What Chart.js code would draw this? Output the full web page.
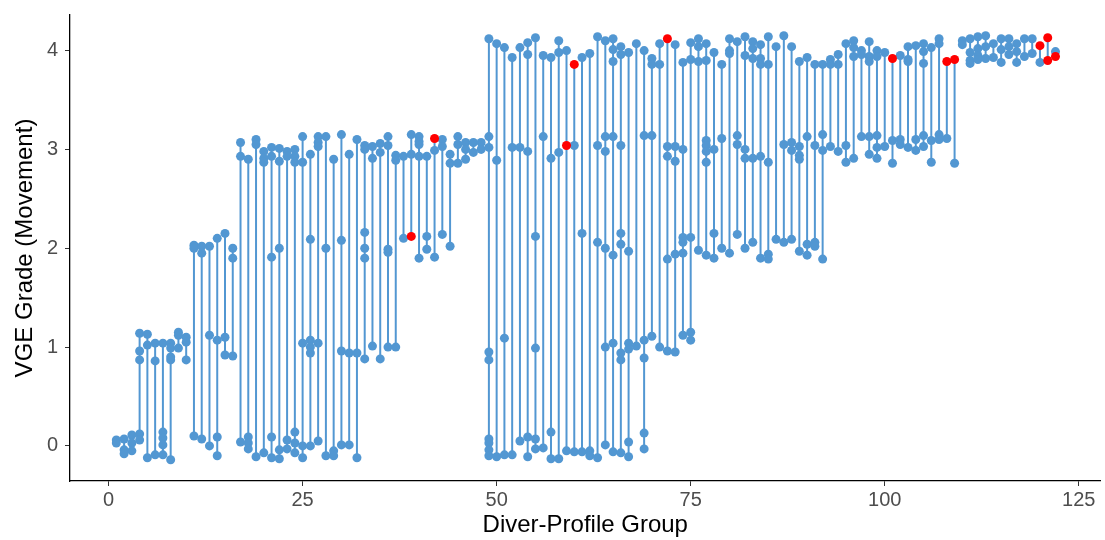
<!DOCTYPE html>
<html><head><meta charset="utf-8">
<script src="https://cdn.jsdelivr.net/npm/chart.js@4.4.1/dist/chart.umd.min.js"></script>
<style>html,body{margin:0;padding:0;background:#fff;overflow:hidden}#wrap{width:1105px;height:540px;position:relative}</style>
</head><body><div id="wrap"><canvas id="c" width="1105" height="540"></canvas></div>
<script>
const groupIds = [1,2,3,4,5,6,7,8,9,10,11,12,13,14,15,16,17,18,19,20,21,22,23,24,25,26,27,28,29,30,
31,32,33,34,35,36,37,38,39,40,41,42,43,44,45,46,47,48,49,50,51,52,53,54,55,56,57,58,59,60,
61,62,63,64,65,66,67,68,69,70,71,72,73,74,75,76,77,78,79,80,81,82,83,84,85,86,87,88,89,90,
91,92,93,94,95,96,97,98,99,100,101,102,103,104,105,106,107,108,109,110,111,112,113,114,115,116,117,118,119,120,121,122];

const gradeValues = [
[0.06,0.03],[0.07,-0.04,-0.08],[0.11,0.03,-0.05],[1.14,0.96,0.87,0.12,0.06],[1.13,1.02,-0.12],
[1.04,0.86,-0.09],[1.04,0.14,0.08,0.01,-0.09],[1.04,0.99,0.9,0.87,-0.14],[1.15,1.12,0.99],[1.1,1.05,0.87],
[2.03,2.0,0.1],[2.02,1.95,0.07],[2.02,1.12,0.0],[2.1,1.07,0.09,-0.1],[2.15,1.1,0.92],
[2.0,1.9,0.91],[3.07,2.93,0.04],[2.9,0.09,0.03,-0.03],[3.1,3.05,-0.11],[2.98,2.91,2.87,-0.07],
[3.02,2.93,1.91,0.09,-0.12],[3.01,2.88,2.0,-0.04,-0.13],[2.98,2.93,0.06,-0.03],[3.0,2.93,2.87,0.14,0.03,-0.07],[3.13,2.87,1.04,0.0,-0.12],
[2.95,2.09,1.07,1.0,0.94,0.0],[3.13,3.07,3.03,1.04,0.05],[3.13,2.0,-0.1],[2.9,-0.05,-0.1],[3.15,2.08,0.96,0.01],
[2.95,0.94,0.01],[3.1,0.94,-0.12],[3.04,3.0,2.16,2.0,1.9,0.88],[3.03,2.91,1.01],[3.06,2.97,0.88],
[3.13,3.04,1.99,1.96,1.0],[2.94,2.89,1.0],[2.93,2.1],[3.15,2.95],[3.13,3.08,3.05,2.93,1.9],
[2.93,2.12,1.99],[2.99,1.91],[3.1,3.03,2.14],[2.95,2.86,2.02],[3.13,3.05,2.86],
[3.07,3.0,2.9],[3.07,2.97],[3.07,3.0],[4.12,3.13,3.02,0.95,0.87,0.07,0.03,-0.04,-0.1],[4.07,2.89,-0.11],
[4.03,1.09,-0.09],[3.93,3.02,-0.09],[4.03,3.02,0.05],[4.08,3.96,2.98,0.09,-0.11],[4.13,2.12,0.99,0.07,-0.03],
[3.95,3.13,-0.02],[3.93,2.91,0.14,-0.13],[4.1,3.98,2.97,-0.13],[4.0,-0.05],[3.04,-0.06],
[3.93,2.15,-0.06],[3.97,-0.05,-0.1],[4.14,3.04,2.06,-0.12],[4.1,3.13,2.98,2.0,1.0,0.01],[4.12,4.01,3.89,3.13,1.93,1.04,-0.06],
[4.04,3.96,3.04,2.15,2.04,0.94,0.87,-0.07],[3.98,1.97,1.04,0.98,0.04,-0.11],[4.07,1.01],[4.0,3.14,1.07,0.89,0.13,-0.03],[3.92,3.86,3.14,1.11],
[4.07,3.86,1.0],[3.03,2.93,1.89,0.96],[4.06,3.03,2.88,1.94,0.95],[3.88,3.0,2.11,2.06,1.95,1.12],[4.08,3.91,2.11,1.15,1.07],
[4.12,4.04,3.89,1.98],[4.07,3.9,3.09,3.04,2.98,2.87,1.93],[3.98,3.0,2.15,1.9],[3.86,3.11,2.0],[4.12,4.0,3.97,1.95],
[4.09,3.14,3.05,2.14],[4.14,3.95,3.0,2.91,2.0],[4.09,4.02,3.92,2.91,2.06],[4.06,3.92,3.86,2.93,1.9],[4.14,3.86,2.87,1.94,1.89],
[4.04,2.09],[4.15,3.05,2.06],[4.04,3.07,2.99,2.09],[3.89,3.03,2.94,2.9,1.97],[3.93,3.13,2.04,1.93],
[3.86,3.04,2.06,2.02],[3.86,3.15,2.99,1.89],[3.91,3.86,3.03],[3.96,3.86,2.98],[4.07,3.04,2.87],
[4.1,4.03,3.94,2.91],[4.0,3.96,3.13],[4.09,3.94,3.89,3.13,2.95],[4.0,3.94,3.14,3.02,2.91],[3.98,3.03],
[3.09,2.86],[3.95,3.1,3.05],[4.04,3.91,3.89,3.02],[4.05,3.1,2.99],[4.07,3.99,3.87,3.14,3.03],
[4.03,3.09,2.87],[4.12,4.07,3.15,3.1],[3.11],[2.86],[4.1,4.06],
[4.12,3.98,3.9,3.87],[4.14,4.02,3.95,3.91],[4.15,4.04,3.92],[4.07,3.93],[4.12,4.01,3.88],
[4.12,4.04,3.96],[4.07,3.99,3.88],[4.12,3.94],[4.12,3.97],[3.88],
[],[3.99]
];

const flaggedGroups = [39,42,59,60,72,101,108,109,120,121,121,122];
const flaggedValues = [2.12,3.11,3.04,3.86,4.12,3.92,3.89,3.91,4.05,4.13,3.9,3.94];

const xTickValues = [0,25,50,75,100,125];
const yTickValues = [0,1,2,3,4];

const BLUE = '#5297D2';
const RED = '#FF0000';

const bluePts = [], redPts = [], segs = [];
groupIds.forEach((g, i) => {
  const vals = gradeValues[i].slice();
  gradeValues[i].forEach(v => bluePts.push({x: g, y: v}));
  flaggedGroups.forEach((fg, j) => { if (fg === g) { vals.push(flaggedValues[j]); redPts.push({x: g, y: flaggedValues[j]}); } });
  if (vals.length > 1) {
    segs.push({x: g, y: Math.min(...vals)}, {x: g, y: Math.max(...vals)}, {x: g, y: null});
  }
});

const tickFont = {family: "'Liberation Sans', Arial, sans-serif", size: 20};
const titleFont = {family: "'Liberation Sans', Arial, sans-serif", size: 24};

new Chart(document.getElementById('c'), {
  type: 'scatter',
  data: {
    datasets: [
      {data: segs, showLine: true, spanGaps: false, borderColor: BLUE, borderWidth: 2, pointRadius: 0, order: 3},
      {data: bluePts, backgroundColor: BLUE, borderWidth: 0, pointRadius: 4.5, order: 2},
      {data: redPts, backgroundColor: RED, borderWidth: 0, pointRadius: 4.5, order: 1}
    ]
  },
  options: {
    responsive: false,
    animation: false,
    devicePixelRatio: 1,
    layout: {padding: {top: 15, right: 0, left: 0, bottom: 0}},
    plugins: {legend: {display: false}, tooltip: {enabled: false}},
    scales: {
      x: {
        type: 'linear', min: -4.97, max: 127.8,
        afterBuildTicks: s => { s.ticks = xTickValues.map(v => ({value: v})); },
        afterFit: s => { s.height = 59; s.paddingLeft = 0; s.paddingRight = 0; },
        grid: {display: true, drawOnChartArea: false, drawTicks: true, tickLength: 5, color: '#333333', lineWidth: 1},
        border: {display: true, color: '#000000', width: 1.3},
        ticks: {font: tickFont, color: '#4D4D4D', padding: 2, maxRotation: 0},
        title: {display: true, text: 'Diver-Profile Group', font: titleFont, color: '#000000', padding: {top: 0, bottom: 0}}
      },
      y: {
        type: 'linear', min: -0.355, max: 4.36,
        afterBuildTicks: s => { s.ticks = yTickValues.map(v => ({value: v})); },
        afterFit: s => { s.width = 70; s.paddingTop = 0; s.paddingBottom = 0; },
        grid: {display: true, drawOnChartArea: false, drawTicks: true, tickLength: 5, color: '#333333', lineWidth: 1},
        border: {display: true, color: '#000000', width: 1.3},
        ticks: {font: tickFont, color: '#4D4D4D', padding: 7},
        title: {display: true, text: 'VGE Grade (Movement)', font: titleFont, color: '#000000', padding: {top: 11, bottom: 0}}
      }
    }
  }
});
</script></body></html>
